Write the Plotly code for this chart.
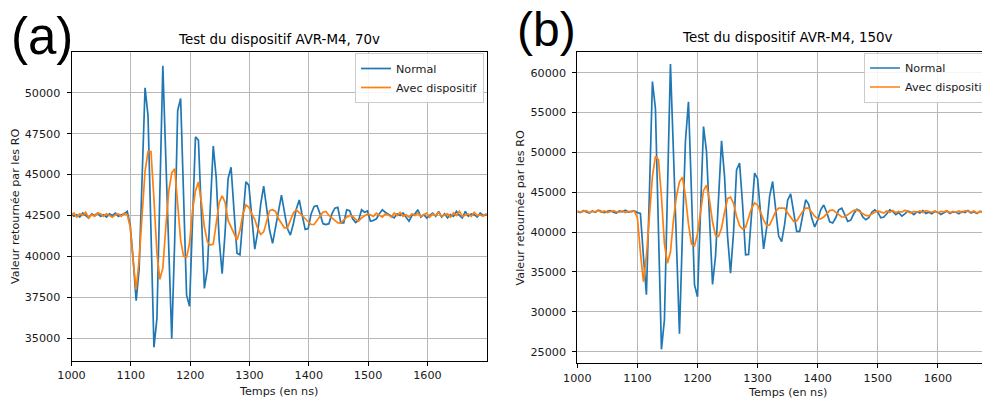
import plotly.graph_objects as go

# ---------------- data ----------------
# Panel (a): 70 V, samples every 5 ns starting at 999 ns
t_a_start = 999
normal_a = [
    42600, 42450, 42550, 42400, 42650, 42500, 42350, 42600, 42500, 42650,
    42450, 42550, 42400, 42600, 42500, 42650, 42450, 42550, 42600, 42750,
    41900, 39800, 37300, 39200, 45000, 50300, 48600, 41500, 34450, 36200,
    44000, 51650, 46000, 40500, 34980, 41000, 48900, 49650, 43500, 37650,
    36950, 42000, 47300, 47100, 42500, 38050, 39200, 43000, 46750, 44800,
    41000, 38950, 41500, 44750, 45450, 42800, 40200, 40100, 42300, 44550,
    44350, 42300, 40450, 41500, 43200, 44300, 43000, 41600, 40800, 41800,
    43000, 43750, 42700, 41700, 41300, 42000, 42900, 43450, 42500, 41650,
    41700, 42600, 43050, 43100, 42600, 42000, 41950, 42000, 42600, 42950,
    43000, 42050, 42050, 42850, 42800, 42300, 42070, 42200, 42850, 42700,
    42780, 42150, 42200, 42300, 42600, 42850, 42700, 42600, 42450, 42350,
    42600, 42500, 42650, 42400, 42150, 42500, 42600, 42850, 42400, 42550,
    42350, 42500, 42650, 42450, 42750, 42400, 42600, 42350, 42550, 42450,
    42750, 42500, 42350, 42750, 42450, 42600, 42550, 42400, 42650, 42500,
    42550, 42500,
]
avec_a = [
    42500, 42650, 42400, 42600, 42500, 42700, 42350, 42550, 42450, 42650,
    42600, 42450, 42600, 42500, 42400, 42550, 42600, 42450, 42650, 42550,
    41800, 39700, 37950, 39800, 42800, 45200, 46400, 46400, 43500, 40200,
    38600, 39300, 41800, 44000, 45100, 45350, 43200, 41000, 40000, 39950,
    40800, 42800, 44000, 44550, 43300, 41800, 40900, 40700, 40750, 42000,
    43300, 43700, 43300, 42200, 41800, 41300, 41000, 41600, 42600, 43150,
    43000, 42600, 42250, 41700, 41350, 41500, 42200, 42800, 42850, 42750,
    42300, 42000, 41750, 41750, 42200, 42650, 42850, 42700, 42500, 42300,
    42100, 41950, 41950, 42200, 42500, 42700, 42750, 42500, 42350, 42200,
    42050, 42050, 42250, 42400, 42500, 42450, 42250, 42150, 42350, 42500,
    42600, 42550, 42450, 42650, 42500, 42400, 42600, 42550, 42400, 42650,
    42500, 42700, 42450, 42550, 42400, 42600, 42500, 42650, 42450, 42550,
    42650, 42400, 42600, 42500, 42700, 42450, 42550, 42600, 42400, 42650,
    42500, 42750, 42450, 42550, 42600, 42450, 42700, 42500, 42550, 42450,
    42600, 42500,
]

# Panel (b): 150 V, samples every 5 ns starting at 1000 ns
t_b_start = 1000
normal_b = [
    42600, 42450, 42700, 42550, 42400, 42650, 42500, 42750, 42550, 42450,
    42600, 42700, 42500, 42400, 42650, 42550, 42750, 42500, 42600, 42650,
    42450, 42350, 37000, 32150, 45000, 58900, 55500, 40000, 25300, 29000,
    45000, 61100, 50000, 38500, 27250, 40000, 51500, 56350, 45000, 33400,
    31900, 42000, 53250, 50100, 41000, 33450, 37000, 45000, 51450, 47000,
    39500, 34850, 40000, 47800, 48650, 43500, 37150, 37200, 42500, 47400,
    46700, 42000, 37900, 40500, 44500, 46350, 42800, 39500, 38800, 41000,
    44000, 44800, 42500, 40100, 40100, 42000, 44050, 43500, 41800, 40650,
    41500, 42800, 43400, 42500, 41300, 41150, 41800, 42800, 43000, 42200,
    41350, 41500, 42300, 42850, 42700, 41900, 41550, 41800, 42500, 42800,
    42500, 41800, 41900, 42300, 42800, 42600, 42200, 42450, 42000, 42300,
    42650, 42500, 42200, 42550, 42400, 42700, 42350, 42500, 42300, 42600,
    42500, 42200, 42450, 42650, 42350, 42550, 42500, 42300, 42600, 42450,
    42700, 42400, 42550, 42350, 42600, 42500, 42400, 42650, 42450, 42550,
    42500,
]
avec_b = [
    42650, 42500, 42600, 42700, 42450, 42600, 42550, 42750, 42500, 42650,
    42450, 42600, 42700, 42550, 42500, 42650, 42450, 42600, 42550, 42650,
    41800, 37500, 33800, 37000, 42500, 47000, 49500, 49100, 44500, 38500,
    36100, 37500, 41500, 44500, 46300, 46900, 44500, 41000, 38500, 38300,
    39800, 42500, 45200, 45900, 44000, 41300, 39600, 39450, 40500, 42500,
    44200, 44400, 43600, 42000, 40800, 40400, 40600, 41800, 43000, 43650,
    43400, 42500, 41500, 40850, 40900, 41700, 42600, 43000, 43000, 43000,
    42400, 41800, 41350, 41400, 42000, 42600, 43000, 43000, 42500, 42000,
    41700, 41650, 41900, 42300, 42700, 42800, 42500, 42100, 41900, 41900,
    42200, 42550, 42750, 42800, 42600, 42300, 42100, 42050, 42300, 42500,
    42650, 42550, 42400, 42650, 42500, 42700, 42450, 42600, 42500, 42750,
    42550, 42400, 42600, 42500, 42650, 42450, 42700, 42550, 42500, 42650,
    42400, 42600, 42550, 42700, 42450, 42600, 42500, 42650, 42450, 42700,
    42550, 42500, 42650, 42400, 42600, 42550, 42700, 42450, 42650, 42500,
    42600,
]

x_ticks = [1000, 1100, 1200, 1300, 1400, 1500, 1600]
y_ticks_a = [35000, 37500, 40000, 42500, 45000, 47500, 50000]
y_ticks_b = [25000, 30000, 35000, 40000, 45000, 50000, 55000, 60000]

titles = ["Test du dispositif AVR-M4, 70v", "Test du dispositif AVR-M4, 150v"]
panel_labels = ["(a)", "(b)"]
series_names = ["Normal", "Avec dispositif"]
x_label = "Temps (en ns)"
y_label = "Valeur retournée par les RO"

t_a = list(range(t_a_start, t_a_start + 5 * len(normal_a), 5))
t_b = list(range(t_b_start, t_b_start + 5 * len(normal_b), 5))

BLUE = "#1f77b4"
ORANGE = "#ff7f0e"
FONT = "DejaVu Sans"
# the page body adds an 8 px margin, so the figure is drawn 8 px smaller
OFF = 8
WIN_W, WIN_H = 990, 403
W, H = WIN_W - OFF, WIN_H - OFF


def px_x(p):
    return (p - OFF) / W


def px_y(p):
    return 1 - (p - OFF) / H


fig = go.Figure()
fig.add_trace(go.Scatter(x=t_a, y=normal_a, mode="lines", name=series_names[0],
                         line=dict(color=BLUE, width=1.7), xaxis="x", yaxis="y", legend="legend"))
fig.add_trace(go.Scatter(x=t_a, y=avec_a, mode="lines", name=series_names[1],
                         line=dict(color=ORANGE, width=1.7), xaxis="x", yaxis="y", legend="legend"))
fig.add_trace(go.Scatter(x=t_b, y=normal_b, mode="lines", name=series_names[0],
                         line=dict(color=BLUE, width=1.7), xaxis="x2", yaxis="y2", legend="legend2"))
fig.add_trace(go.Scatter(x=t_b, y=avec_b, mode="lines", name=series_names[1],
                         line=dict(color=ORANGE, width=1.7), xaxis="x2", yaxis="y2", legend="legend2"))

tickfont = dict(family=FONT, size=11.2, color="#1a1a1a")
common_x = dict(tickmode="array", tickvals=x_ticks, ticktext=[str(v) for v in x_ticks],
                ticks="outside", ticklen=4, tickwidth=1, tickcolor="black",
                showgrid=True, gridcolor="#b8b8b8", gridwidth=1,
                showline=True, linecolor="black", linewidth=1,
                zeroline=False, tickfont=tickfont)
common_y = dict(ticks="outside", ticklen=4, tickwidth=1, tickcolor="black",
                showgrid=True, gridcolor="#b8b8b8", gridwidth=1,
                showline=True, linecolor="black", linewidth=1,
                zeroline=False, tickfont=tickfont, ticklabelstandoff=4)

legend_style = dict(xanchor="left", yanchor="top",
                    bgcolor="rgba(255,255,255,0.85)", bordercolor="#cccccc", borderwidth=1,
                    font=dict(family=FONT, size=11.2, color="#1a1a1a"), itemwidth=30,
                    tracegroupgap=0)

fig.update_layout(
    width=W, height=H,
    margin=dict(l=0, r=0, t=0, b=0, autoexpand=False),
    paper_bgcolor="white", plot_bgcolor="white",
    xaxis=dict(common_x, domain=[px_x(71.5), px_x(486.7)], range=[1000, 1700],
               anchor="y", mirror=True),
    yaxis=dict(common_y, domain=[px_y(361), px_y(52)], range=[33614, 52486],
               tickmode="array", tickvals=y_ticks_a, ticktext=[str(v) for v in y_ticks_a],
               anchor="x", mirror=True),
    xaxis2=dict(common_x, domain=[px_x(577.3), 1.0], range=[1000, 1686.7],
                anchor="y2", mirror=True),
    yaxis2=dict(common_y, domain=[px_y(363.3), px_y(51.7)], range=[23545, 62634],
                tickmode="array", tickvals=y_ticks_b, ticktext=[str(v) for v in y_ticks_b],
                anchor="x2", mirror=False),
    legend=dict(legend_style, x=px_x(355), y=px_y(53)),
    legend2=dict(legend_style, x=px_x(864), y=px_y(52.5)),
    showlegend=True,
)

ann = []
ann.append(dict(text=titles[0], x=px_x(279), y=px_y(40), xref="paper", yref="paper",
                xanchor="center", yanchor="middle", showarrow=False,
                font=dict(family=FONT, size=13.4, color="black")))
ann.append(dict(text=titles[1], x=px_x(787.5), y=px_y(37.5), xref="paper", yref="paper",
                xanchor="center", yanchor="middle", showarrow=False,
                font=dict(family=FONT, size=13.4, color="black")))
ann.append(dict(text=x_label, x=px_x(278.5), y=px_y(391), xref="paper", yref="paper",
                xanchor="center", yanchor="middle", showarrow=False,
                font=dict(family=FONT, size=11.2, color="#1a1a1a")))
ann.append(dict(text=x_label, x=px_x(787.5), y=px_y(392.7), xref="paper", yref="paper",
                xanchor="center", yanchor="middle", showarrow=False,
                font=dict(family=FONT, size=11.2, color="#1a1a1a")))
ann.append(dict(text=y_label, x=px_x(15.5), y=px_y(206.5), xref="paper", yref="paper",
                xanchor="center", yanchor="middle", showarrow=False, textangle=-90,
                font=dict(family=FONT, size=11.2, color="#1a1a1a")))
ann.append(dict(text=y_label, x=px_x(520), y=px_y(207.5), xref="paper", yref="paper",
                xanchor="center", yanchor="middle", showarrow=False, textangle=-90,
                font=dict(family=FONT, size=11.2, color="#1a1a1a")))
ann.append(dict(text=panel_labels[0], x=px_x(41.5), y=px_y(36.5), xref="paper", yref="paper",
                xanchor="center", yanchor="middle", showarrow=False,
                font=dict(family="Liberation Sans", size=51, color="black")))
ann.append(dict(text=panel_labels[1], x=px_x(546.5), y=px_y(30), xref="paper", yref="paper",
                xanchor="center", yanchor="middle", showarrow=False,
                font=dict(family="Liberation Sans", size=48, color="black")))
fig.update_layout(annotations=ann)

fig.write_html("out.html")
